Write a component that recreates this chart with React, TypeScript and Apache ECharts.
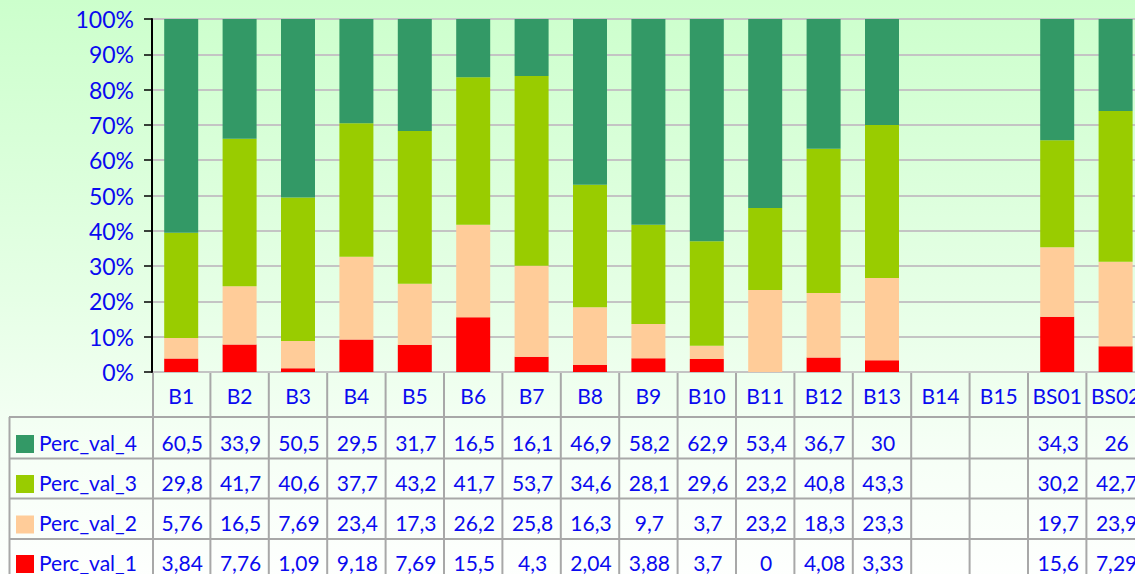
import React, { useEffect, useRef } from 'react';
import * as echarts from 'echarts';

const categories = ['B1', 'B2', 'B3', 'B4', 'B5', 'B6', 'B7', 'B8', 'B9', 'B10', 'B11', 'B12', 'B13', 'B14', 'B15', 'BS01', 'BS02'];
const percVal4 = [60.5, 33.9, 50.5, 29.5, 31.7, 16.5, 16.1, 46.9, 58.2, 62.9, 53.4, 36.7, 30, null, null, 34.3, 26];
const percVal3 = [29.8, 41.7, 40.6, 37.7, 43.2, 41.7, 53.7, 34.6, 28.1, 29.6, 23.2, 40.8, 43.3, null, null, 30.2, 42.7];
const percVal2 = [5.76, 16.5, 7.69, 23.4, 17.3, 26.2, 25.8, 16.3, 9.7, 3.7, 23.2, 18.3, 23.3, null, null, 19.7, 23.9];
const percVal1 = [3.84, 7.76, 1.09, 9.18, 7.69, 15.5, 4.3, 2.04, 3.88, 3.7, 0, 4.08, 3.33, null, null, 15.6, 7.29];
const seriesNames = ['Perc_val_4', 'Perc_val_3', 'Perc_val_2', 'Perc_val_1'];
const seriesColors = ['#339966', '#99cc00', '#ffcc99', '#ff0000'];

const BLUE = '#0a0af0';
const FONT = 'Lato, "Open Sans", sans-serif';
const GRID_LEFT = 152;
const GRID_TOP = 19;
const GRID_H = 353;
const CAT_W = 58.4;
const TABLE_LINE = '#a8a8a8';
const ROW_LINES = [417, 458.5, 498.5, 539];
const ROW_TEXT_Y = [442, 482, 522.5, 562];

export default function App() {
  const ref = useRef<HTMLDivElement>(null);
  useEffect(() => {
    const chart = echarts.init(ref.current!, null, { renderer: 'svg' });
    const raw = [percVal1, percVal2, percVal3, percVal4];
    const totals = categories.map((_, i) => raw.reduce((s, a) => s + ((a[i] as number | null) ?? 0), 0));
    const norm = (arr: (number | null)[]) =>
      arr.map((v, i) => (v == null ? null : totals[i] ? (v / totals[i]) * 100 : 0));
    const rows = [percVal4, percVal3, percVal2, percVal1];
    const fmt = (v: number | null) => (v == null ? '' : String(v).replace('.', ','));

    const gridW = CAT_W * categories.length;
    const right = 1160;
    const graphics: any[] = [];
    // horizontal table lines
    graphics.push({ type: 'line', shape: { x1: GRID_LEFT, y1: GRID_TOP + GRID_H, x2: right, y2: GRID_TOP + GRID_H }, style: { stroke: TABLE_LINE, lineWidth: 2 } });
    ROW_LINES.forEach((y) => {
      graphics.push({ type: 'line', shape: { x1: 9, y1: y, x2: right, y2: y }, style: { stroke: TABLE_LINE, lineWidth: 2 } });
    });
    // vertical table lines
    graphics.push({ type: 'line', shape: { x1: 9.5, y1: ROW_LINES[0], x2: 9.5, y2: 600 }, style: { stroke: TABLE_LINE, lineWidth: 2 } });
    for (let i = 0; i <= categories.length; i++) {
      const x = GRID_LEFT + i * CAT_W + (i === 0 ? 1 : 0);
      graphics.push({ type: 'line', shape: { x1: x, y1: GRID_TOP + GRID_H, x2: x, y2: 600 }, style: { stroke: TABLE_LINE, lineWidth: 2 } });
    }
    // legend keys + names
    seriesNames.forEach((name, r) => {
      graphics.push({ type: 'rect', shape: { x: 16, y: ROW_TEXT_Y[r] - 7, width: 18, height: 18 }, style: { fill: seriesColors[r] } });
      graphics.push({
        type: 'text', x: 39, y: ROW_TEXT_Y[r],
        style: { text: name, fill: BLUE, font: `21px ${FONT}`, textAlign: 'left', textVerticalAlign: 'middle', align: 'left', verticalAlign: 'middle' },
      });
    });
    // values
    rows.forEach((arr, r) => {
      arr.forEach((v, i) => {
        if (v == null) return;
        graphics.push({
          type: 'text', x: GRID_LEFT + (i + 0.5) * CAT_W + 1, y: ROW_TEXT_Y[r],
          style: { text: fmt(v), fill: BLUE, font: `21px ${FONT}`, textAlign: 'center', textVerticalAlign: 'middle', align: 'center', verticalAlign: 'middle' },
        });
      });
    });

    const stackSeries = [
      { name: seriesNames[3], data: norm(percVal1), color: seriesColors[3] },
      { name: seriesNames[2], data: norm(percVal2), color: seriesColors[2] },
      { name: seriesNames[1], data: norm(percVal3), color: seriesColors[1] },
      { name: seriesNames[0], data: norm(percVal4), color: seriesColors[0] },
    ];

    chart.setOption({
      animation: false,
      backgroundColor: 'transparent',
      grid: { left: GRID_LEFT, top: GRID_TOP, width: gridW, height: GRID_H, containLabel: false },
      xAxis: {
        type: 'category',
        data: categories,
        axisLine: { show: false },
        axisTick: { show: false },
        axisLabel: { color: BLUE, fontSize: 21, fontFamily: FONT, margin: 13, interval: 0 },
      },
      yAxis: {
        type: 'value',
        min: 0,
        max: 100,
        interval: 10,
        axisLine: { show: true, lineStyle: { color: '#000', width: 2 } },
        axisTick: { show: true, length: 8, lineStyle: { color: '#000', width: 1.5 } },
        axisLabel: { color: BLUE, fontSize: 23, fontFamily: FONT, margin: 18, formatter: '{value}%' },
        splitLine: { show: true, lineStyle: { color: '#c4c4c4', width: 2 } },
      },
      series: stackSeries.map((s) => ({
        type: 'bar',
        name: s.name,
        stack: 'total',
        data: s.data,
        barWidth: 34,
        itemStyle: { color: s.color },
      })),
      graphic: graphics,
    });
    return () => chart.dispose();
  }, []);
  return (
    <div
      ref={ref}
      style={{
        position: 'fixed',
        left: 0,
        top: 0,
        width: 1160,
        height: 600,
        background: 'linear-gradient(to bottom, #ccffcc 0px, #e6ffe6 300px, #f6fff6 450px, #ffffff 600px)',
      }}
    />
  );
}
